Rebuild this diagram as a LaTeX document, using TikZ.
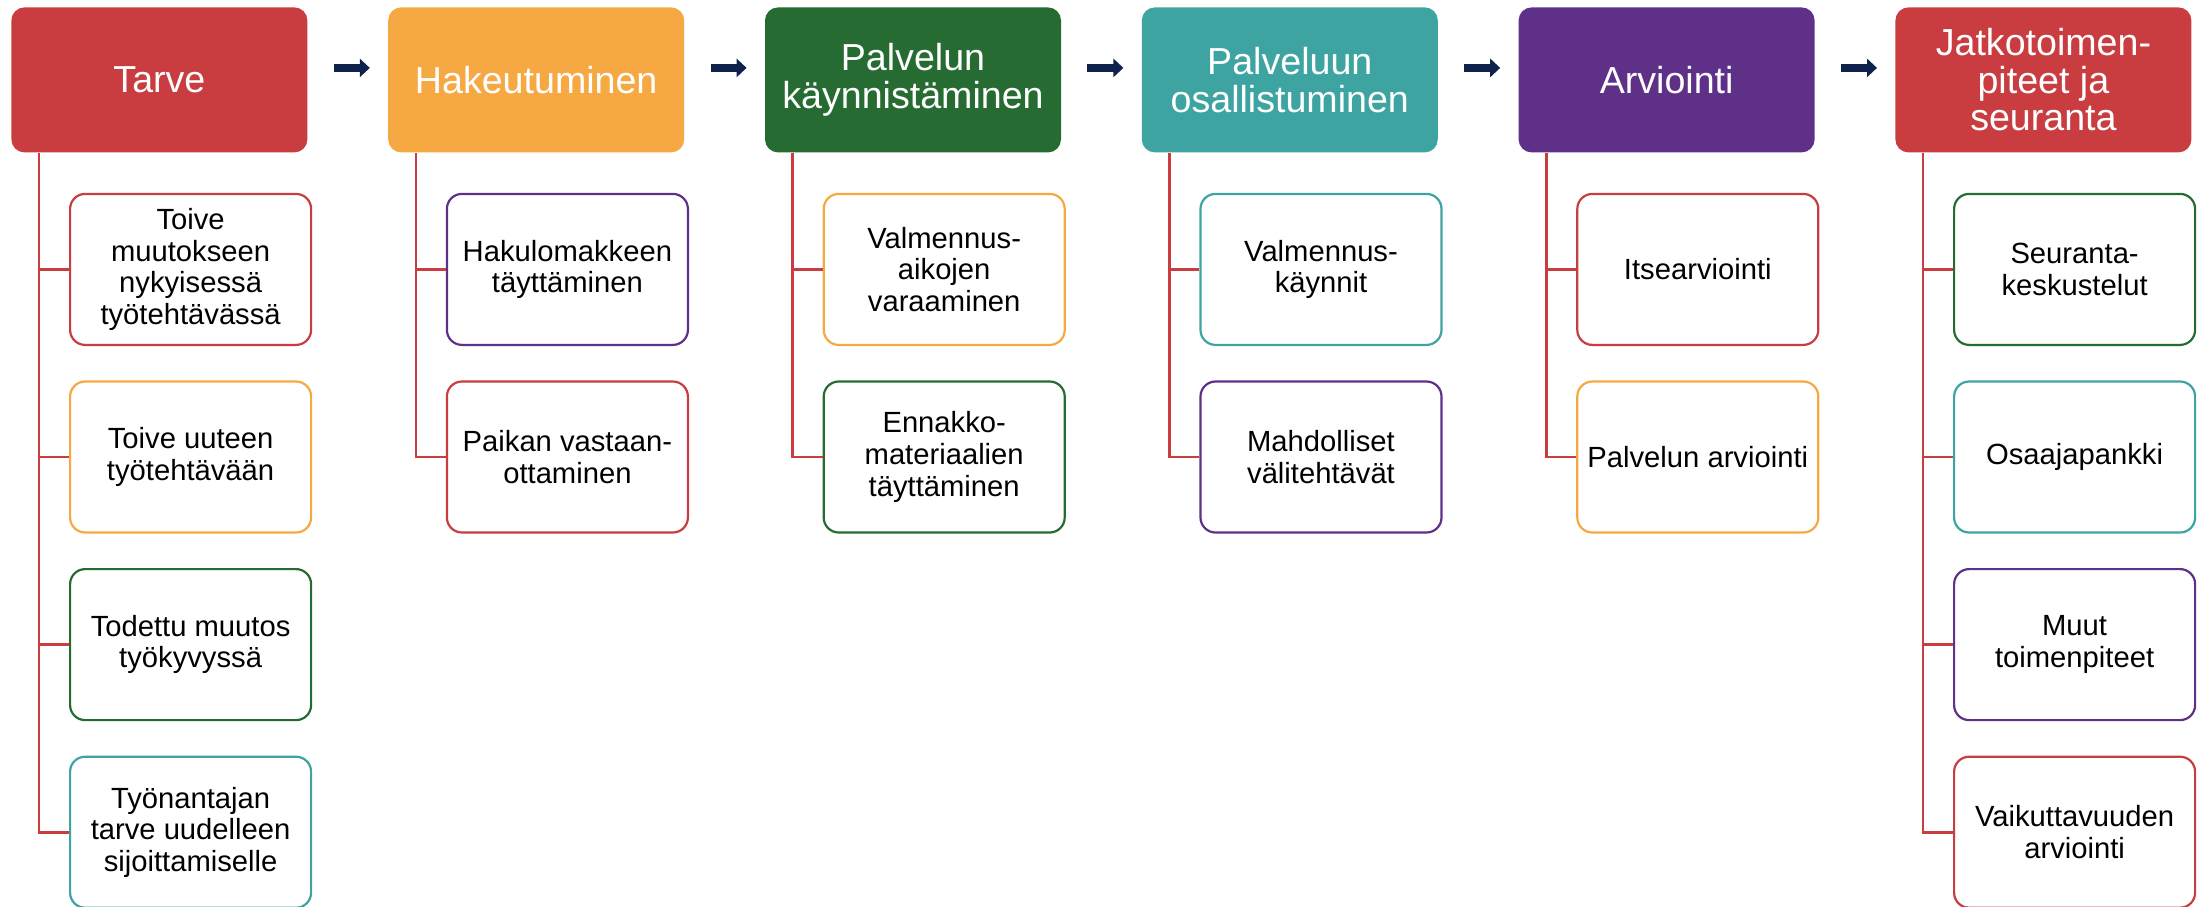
\documentclass[tikz,border=0pt]{standalone}
\usepackage{fontspec}
\setmainfont{Liberation Sans}
\usetikzlibrary{arrows.meta, positioning, calc}
\definecolor{StepRed}{RGB}{201,61,64}
\definecolor{StepOrange}{RGB}{246,169,67}
\definecolor{StepGreen}{RGB}{38,107,50}
\definecolor{StepTeal}{RGB}{61,164,161}
\definecolor{StepPurple}{RGB}{94,48,136}
\definecolor{ArrowNavy}{RGB}{14,34,76}

\tikzset{
  phase/.style={rounded corners=6.5pt, minimum width=148pt, minimum height=72.5pt,
                inner sep=2pt, align=center, text=white,
                font=\fontsize{18.8}{18.8}\selectfont},
  task/.style={draw, fill=white, rounded corners=7.5pt, line width=1.1pt,
               minimum width=120.5pt, minimum height=75.5pt, inner sep=2pt,
               align=center, font=\fontsize{14.6}{15.8}\selectfont},
  branch/.style={StepRed, line width=1.3pt},
  flow/.style={ArrowNavy, line width=4pt, -{Triangle[length=5pt, width=9pt]}},
}

\begin{document}
\begin{tikzpicture}
  \useasboundingbox (0,0) rectangle (1100.5pt,-453pt);

  % phases
  \node[phase, fill=StepRed, anchor=north west] (tarve) at (5.5pt,-3.5pt) {Tarve};
  \node[phase, fill=StepOrange, right=40pt of tarve] (haku) {Hakeutuminen};
  \node[phase, fill=StepGreen, right=40pt of haku] (kaynnistys) {Palvelun\\käynnistäminen};
  \node[phase, fill=StepTeal, right=40pt of kaynnistys] (osallistuminen) {Palveluun\\osallistuminen};
  \node[phase, fill=StepPurple, right=40pt of osallistuminen] (arviointi) {Arviointi};
  \node[phase, fill=StepRed, right=40pt of arviointi] (jatko) {Jatkotoimen-\\piteet ja\\seuranta};

  % arrows between phases
  \draw[flow] ([xshift=13pt,yshift=6pt]tarve.east) -- ([xshift=-9pt,yshift=6pt]haku.west);
  \draw[flow] ([xshift=13pt,yshift=6pt]haku.east) -- ([xshift=-9pt,yshift=6pt]kaynnistys.west);
  \draw[flow] ([xshift=13pt,yshift=6pt]kaynnistys.east) -- ([xshift=-9pt,yshift=6pt]osallistuminen.west);
  \draw[flow] ([xshift=13pt,yshift=6pt]osallistuminen.east) -- ([xshift=-9pt,yshift=6pt]arviointi.west);
  \draw[flow] ([xshift=13pt,yshift=6pt]arviointi.east) -- ([xshift=-9pt,yshift=6pt]jatko.west);

  % Tarve
  \node[task, draw=StepRed, anchor=north west] (tarve1) at ($(tarve.south west)+(29pt,-20pt)$)
    {Toive\\muutokseen\\nykyisessä\\työtehtävässä};
  \node[task, draw=StepOrange, below=17.2pt of tarve1] (tarve2) {Toive uuteen\\työtehtävään};
  \node[task, draw=StepGreen, below=17.2pt of tarve2] (tarve3) {Todettu muutos\\työkyvyssä};
  \node[task, draw=StepTeal, below=17.2pt of tarve3] (tarve4) {Työnantajan\\tarve uudelleen\\sijoittamiselle};
  \foreach \t in {tarve1,tarve2,tarve3,tarve4}
    \draw[branch] ([xshift=14pt]tarve.south west) |- (\t.west);

  % Hakeutuminen
  \node[task, draw=StepPurple, anchor=north west] (haku1) at ($(haku.south west)+(29pt,-20pt)$)
    {Hakulomakkeen\\täyttäminen};
  \node[task, draw=StepRed, below=17.2pt of haku1] (haku2) {Paikan vastaan-\\ottaminen};
  \foreach \t in {haku1,haku2}
    \draw[branch] ([xshift=14pt]haku.south west) |- (\t.west);

  % Palvelun käynnistäminen
  \node[task, draw=StepOrange, anchor=north west] (kaynnistys1) at ($(kaynnistys.south west)+(29pt,-20pt)$)
    {Valmennus-\\aikojen\\varaaminen};
  \node[task, draw=StepGreen, below=17.2pt of kaynnistys1] (kaynnistys2) {Ennakko-\\materiaalien\\täyttäminen};
  \foreach \t in {kaynnistys1,kaynnistys2}
    \draw[branch] ([xshift=14pt]kaynnistys.south west) |- (\t.west);

  % Palveluun osallistuminen
  \node[task, draw=StepTeal, anchor=north west] (osallistuminen1) at ($(osallistuminen.south west)+(29pt,-20pt)$)
    {Valmennus-\\käynnit};
  \node[task, draw=StepPurple, below=17.2pt of osallistuminen1] (osallistuminen2) {Mahdolliset\\välitehtävät};
  \foreach \t in {osallistuminen1,osallistuminen2}
    \draw[branch] ([xshift=14pt]osallistuminen.south west) |- (\t.west);

  % Arviointi
  \node[task, draw=StepRed, anchor=north west] (arviointi1) at ($(arviointi.south west)+(29pt,-20pt)$)
    {Itsearviointi};
  \node[task, draw=StepOrange, below=17.2pt of arviointi1] (arviointi2) {Palvelun arviointi};
  \foreach \t in {arviointi1,arviointi2}
    \draw[branch] ([xshift=14pt]arviointi.south west) |- (\t.west);

  % Jatkotoimenpiteet ja seuranta
  \node[task, draw=StepGreen, anchor=north west] (jatko1) at ($(jatko.south west)+(29pt,-20pt)$)
    {Seuranta-\\keskustelut};
  \node[task, draw=StepTeal, below=17.2pt of jatko1] (jatko2) {Osaajapankki};
  \node[task, draw=StepPurple, below=17.2pt of jatko2] (jatko3) {Muut\\toimenpiteet};
  \node[task, draw=StepRed, below=17.2pt of jatko3] (jatko4) {Vaikuttavuuden\\arviointi};
  \foreach \t in {jatko1,jatko2,jatko3,jatko4}
    \draw[branch] ([xshift=14pt]jatko.south west) |- (\t.west);
\end{tikzpicture}
\end{document}
